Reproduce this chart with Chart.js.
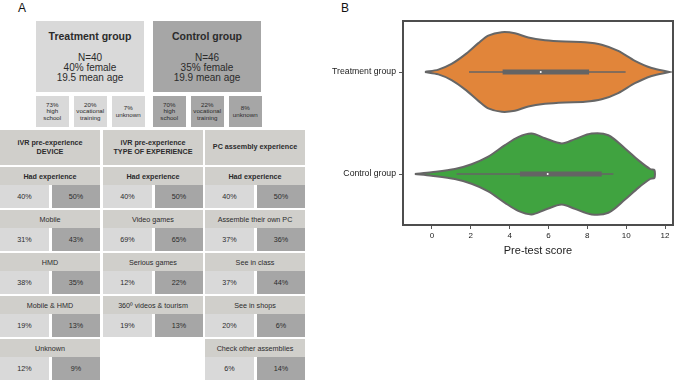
<!DOCTYPE html>
<html>
<head>
<meta charset="utf-8">
<script src="https://cdn.jsdelivr.net/npm/chart.js@4.4.1/dist/chart.umd.min.js"></script>
<style>
body { margin: 0; width: 685px; height: 380px; position: relative; overflow: hidden; background: #fff;
       font-family: "Liberation Sans", Arial, sans-serif; color: #2b2b2b; }
.cell { position: absolute; box-sizing: border-box; display: flex; flex-direction: column;
        align-items: center; justify-content: center; text-align: center; white-space: pre-line; }
.tag { position: absolute; font-size: 12px; color: #111; }
</style>
</head>
<body>
<div class="tag" style="left:18px;top:1px">A</div>
<div class="tag" style="left:341px;top:1px">B</div>
<div id="panelA"></div>
<canvas id="chart" width="355" height="261" style="position:absolute;left:330px;top:0"></canvas>
<script>
// panel A: sample description
const groups = ['Treatment group', 'Control group']
const sampleSize = [40, 46]
const femaleShare = [40, 35]
const meanAge = [19.5, 19.9]
const educationLabels = ['high\nschool', 'vocational\ntraining', 'unknown']
const educationShare = [[73, 20, 7], [70, 22, 8]]

const blockTitles = ['iVR pre-experience\nDEVICE', 'iVR pre-experience\nTYPE OF EXPERIENCE', 'PC assembly experience']
const deviceItems = ['Had experience', 'Mobile', 'HMD', 'Mobile & HMD', 'Unknown']
const deviceShare = [[40, 50], [31, 43], [38, 35], [19, 13], [12, 9]]
const typeItems = ['Had experience', 'Video games', 'Serious games', '360º videos & tourism']
const typeShare = [[40, 50], [69, 65], [12, 22], [19, 13]]
const pcItems = ['Had experience', 'Assemble their own PC', 'See in class', 'See in shops', 'Check other assemblies']
const pcShare = [[40, 50], [37, 36], [37, 44], [20, 6], [6, 14]]

// panel B: pre-test score violins (outline, half width in category units)
const violinLabels = ['Treatment group', 'Control group']
const treatmentX = [-0.36, 0.33, 1.01, 1.70, 2.39, 2.90, 3.59, 4.27, 4.96, 5.82, 6.85, 7.88, 8.74, 9.59, 10.45, 11.31, 12.22]
const treatmentWidth = [0, 0.023, 0.079, 0.170, 0.283, 0.357, 0.390, 0.380, 0.338, 0.312, 0.298, 0.292, 0.268, 0.207, 0.110, 0.039, 0]
const controlX = [-0.88, -0.02, 1.18, 2.04, 2.90, 3.76, 4.44, 5.13, 5.82, 6.68, 7.36, 8.22, 9.08, 9.94, 10.62, 11.23, 11.45]
const controlWidth = [0, 0.017, 0.049, 0.096, 0.170, 0.283, 0.362, 0.396, 0.350, 0.300, 0.342, 0.396, 0.380, 0.250, 0.136, 0.049, 0.039]
// whisker low, Q1, median, Q3, whisker high
const treatmentBox = [1.91, 3.64, 5.60, 8.09, 9.97]
const controlBox = [1.27, 4.53, 5.96, 8.74, 9.34]
const xTicks = [0, 2, 4, 6, 8, 10, 12]

const light = '#d9d9d9'
const dark = '#a6a6a6'
const headGray = '#d0cfcb'

const panel = document.getElementById('panelA')
function cell(x, y, w, h, bg, text, css) {
    const d = document.createElement('div')
    d.className = 'cell'
    d.style.cssText = `left:${x}px;top:${y}px;width:${w}px;height:${h}px;background:${bg};` + (css || '')
    d.textContent = text
    panel.appendChild(d)
    return d
}

// group boxes
groups.forEach((g, i) => {
    const x = i == 0 ? 36 : 153
    const bg = i == 0 ? light : dark
    const box = cell(x, 21, 108, 71, bg, '', 'justify-content:flex-start')
    box.innerHTML = `<div style="font-weight:bold;font-size:10.5px;line-height:12px;margin-top:9px">${g}</div>` +
        `<div style="font-size:10px;line-height:10px;margin-top:11px">N=${sampleSize[i]}<br>${femaleShare[i]}% female<br>${meanAge[i]} mean age</div>`
    educationShare[i].forEach((v, j) => {
        cell(x + j * 38, 96, 32.5, 31, bg, v + '%\n' + educationLabels[j], 'font-size:6.2px;line-height:6.6px')
    })
})

// experience blocks
const blocks = [[deviceItems, deviceShare], [typeItems, typeShare], [pcItems, pcShare]]
const colX = [0, 103, 205]
blocks.forEach(([items, share], c) => {
    const x = colX[c]
    cell(x, 130, 100, 35, headGray, blockTitles[c], 'font-weight:bold;font-size:7.2px;line-height:8.5px')
    items.forEach((name, r) => {
        const y = 167 + r * 43
        cell(x, y, 100, 18, headGray, name, 'font-size:7.2px' + (r == 0 ? ';font-weight:bold' : ''))
        cell(x, y + 18, 49, 22.5, light, share[r][0] + '%', 'font-size:7.2px;padding-top:1px')
        cell(x + 52, y + 18, 48, 22.5, dark, share[r][1] + '%', 'font-size:7.2px;padding-top:1px')
    })
})

// panel B
function violinShape(xs, ws, pos) {
    const upper = xs.map((x, i) => ({ x: x, y: pos - ws[i] }))
    const lower = xs.map((x, i) => ({ x: x, y: pos + ws[i] })).reverse()
    return upper.concat(lower, [upper[0]])
}

function violinSets(xs, ws, box, pos, color) {
    return [
        { data: [{ x: box[2], y: pos }], pointRadius: 1, pointBackgroundColor: '#fff', pointBorderWidth: 0, showLine: false, order: 0 },
        { data: [{ x: box[1], y: pos }, { x: box[3], y: pos }], borderColor: '#646464', borderWidth: 5, pointRadius: 0, showLine: true, order: 1 },
        { data: [{ x: box[0], y: pos }, { x: box[4], y: pos }], borderColor: '#646464', borderWidth: 1.5, pointRadius: 0, showLine: true, order: 2 },
        { data: violinShape(xs, ws, pos), borderColor: '#666', borderWidth: 2, backgroundColor: color,
          fill: 'shape', pointRadius: 0, showLine: true, tension: 0.3, order: 3 }
    ]
}

const frame = {
    id: 'frame',
    afterDraw(chart) {
        const { ctx, chartArea: a } = chart
        ctx.save()
        ctx.strokeStyle = '#4d4d4d'
        ctx.lineWidth = 2
        ctx.strokeRect(a.left, a.top, a.right - a.left, a.bottom - a.top)
        ctx.restore()
    }
}

const fontFamily = '"Liberation Sans", Arial, sans-serif'

new Chart(document.getElementById('chart').getContext('2d'), {
    type: 'scatter',
    data: {
        datasets: violinSets(treatmentX, treatmentWidth, treatmentBox, 0, '#e1853a')
            .concat(violinSets(controlX, controlWidth, controlBox, 1, '#40a340'))
    },
    options: {
        responsive: false,
        animation: false,
        layout: { padding: { top: 21, right: 12, left: 0, bottom: 0 } },
        plugins: { legend: { display: false }, tooltip: { enabled: false } },
        scales: {
            x: {
                type: 'linear', min: -1.49, max: 12.41,
                afterBuildTicks: s => { s.ticks = xTicks.map(v => ({ value: v })) },
                afterFit: s => { s.height = 36 },
                ticks: { font: { family: fontFamily, size: 8 }, color: '#222', padding: 2 },
                grid: { drawOnChartArea: false, tickLength: 4, color: '#555', lineWidth: 1 },
                border: { display: false },
                title: { display: true, text: 'Pre-test score', color: '#222',
                         font: { family: fontFamily, size: 11 }, padding: { top: 2, bottom: 3 } }
            },
            y: {
                type: 'linear', min: -0.5, max: 1.5, reverse: true,
                afterBuildTicks: s => { s.ticks = violinLabels.map((l, i) => ({ value: i })) },
                afterFit: s => { s.width = 73 },
                ticks: { font: { family: fontFamily, size: 8.7 }, color: '#222', padding: 3, callback: v => violinLabels[v] },
                grid: { drawOnChartArea: false, tickLength: 4, color: '#555', lineWidth: 1 },
                border: { display: false }
            }
        }
    },
    plugins: [frame]
})
</script>
</body>
</html>
